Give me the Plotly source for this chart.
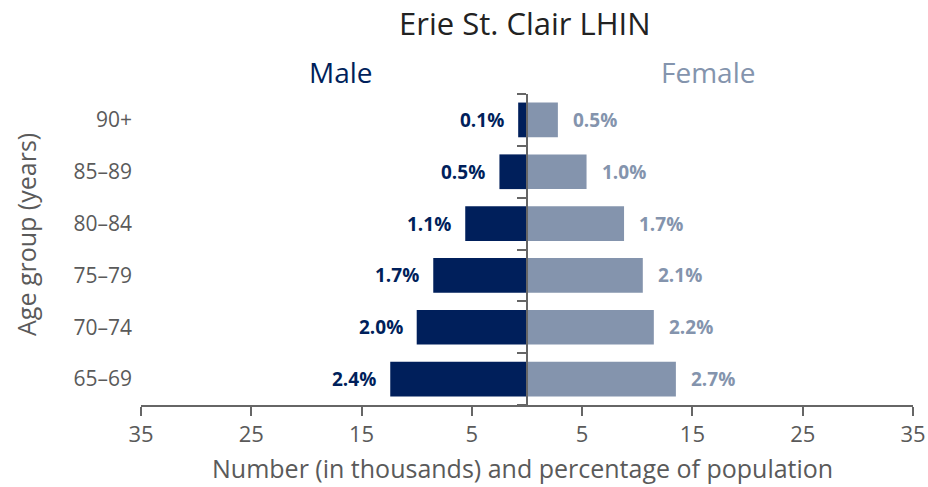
import plotly.graph_objects as go

ages = ["65–69", "70–74", "75–79", "80–84", "85–89", "90+"]
male_k = [12.4, 10.0, 8.5, 5.6, 2.5, 0.8]
female_k = [13.5, 11.5, 10.5, 8.8, 5.4, 2.8]
male_pct = ["2.4%", "2.0%", "1.7%", "1.1%", "0.5%", "0.1%"]
female_pct = ["2.7%", "2.2%", "2.1%", "1.7%", "1.0%", "0.5%"]
tick_vals = [-35, -25, -15, -5, 5, 15, 25, 35]
tick_text = ["35", "25", "15", "5", "5", "15", "25", "35"]

NAVY = "#001F5B"
STEEL = "#8494AD"
GRAY = "#5A5A5A"
FONT = "'Open Sans', 'Noto Sans', sans-serif"

W, H = 928, 487
L, R, T, B = 141, 15, 94, 82
pw, ph = W - L - R, H - T - B


def px_to_paper(px, py):
    return (px - L) / pw, 1 - (py - T) / ph


fig = go.Figure()
fig.add_trace(go.Bar(y=ages, x=[-v for v in male_k], orientation="h",
                     marker=dict(color=NAVY, line=dict(width=0)),
                     name="Male", hoverinfo="skip"))
fig.add_trace(go.Bar(y=ages, x=female_k, orientation="h",
                     marker=dict(color=STEEL, line=dict(width=0)),
                     name="Female", hoverinfo="skip"))
# invisible helper trace for the centre axis line with boundary ticks
fig.add_trace(go.Scatter(y=ages, x=[0] * len(ages), yaxis="y2", mode="markers",
                         marker=dict(opacity=0), hoverinfo="skip", showlegend=False))

annotations = []
for a, m, mp in zip(ages, male_k, male_pct):
    annotations.append(dict(x=-m, y=a, text=mp, showarrow=False, xanchor="right", yanchor="middle",
                            xshift=-12, font=dict(family=FONT, size=19, color=NAVY, weight="bold")))
for a, f, fp in zip(ages, female_k, female_pct):
    annotations.append(dict(x=f, y=a, text=fp, showarrow=False, xanchor="left", yanchor="middle",
                            xshift=13, font=dict(family=FONT, size=19, color=STEEL, weight="bold")))

header = [
    (525, 23, "Erie St. Clair LHIN", 31, "#222222", 0),
    (341, 72, "Male", 28, NAVY, 0),
    (708, 72, "Female", 28, STEEL, 0),
    (26, 235, "Age group (years)", 25, GRAY, -90),
    (522, 468, "Number (in thousands) and percentage of population", 25, GRAY, 0),
]
for px, py, txt, size, col, ang in header:
    xp, yp = px_to_paper(px, py)
    annotations.append(dict(x=xp, y=yp, xref="paper", yref="paper", text=txt, showarrow=False,
                            xanchor="center", yanchor="middle", textangle=ang,
                            font=dict(family=FONT, size=size, color=col)))

fig.update_layout(
    width=W, height=H,
    margin=dict(l=L, r=R, t=T, b=B, pad=0, autoexpand=False),
    plot_bgcolor="white", paper_bgcolor="white",
    barmode="relative", bargap=0.33, showlegend=False,
    font=dict(family=FONT, color=GRAY),
    annotations=annotations,
    xaxis=dict(range=[-35, 35], tickvals=tick_vals, ticktext=tick_text, automargin=False,
               showgrid=False, zeroline=False, showline=True, linecolor="#666666", linewidth=2,
               ticks="outside", ticklen=9, tickwidth=2, tickcolor="#666666",
               tickfont=dict(family=FONT, size=22, color=GRAY), ticklabeloverflow="allow",
               fixedrange=True),
    yaxis=dict(type="category", categoryorder="array", categoryarray=ages, range=[-0.5, 5.5],
               showgrid=False, zeroline=False, showline=False, ticks="", automargin=False,
               tickfont=dict(family=FONT, size=21, color=GRAY), ticklabelstandoff=8,
               fixedrange=True),
    yaxis2=dict(type="category", categoryorder="array", categoryarray=ages, range=[-0.5, 5.5],
                overlaying="y", anchor="free", position=0.5, side="left", automargin=False,
                showline=True, linecolor="#666666", linewidth=2,
                ticks="outside", ticklen=9, tickwidth=2, tickcolor="#666666",
                tickson="boundaries", showticklabels=False, showgrid=False, zeroline=False,
                fixedrange=True),
)

fig.write_html("out.html", config={"displayModeBar": False, "staticPlot": True},
               post_script="document.body.style.margin='0';document.body.style.overflow='hidden';")
